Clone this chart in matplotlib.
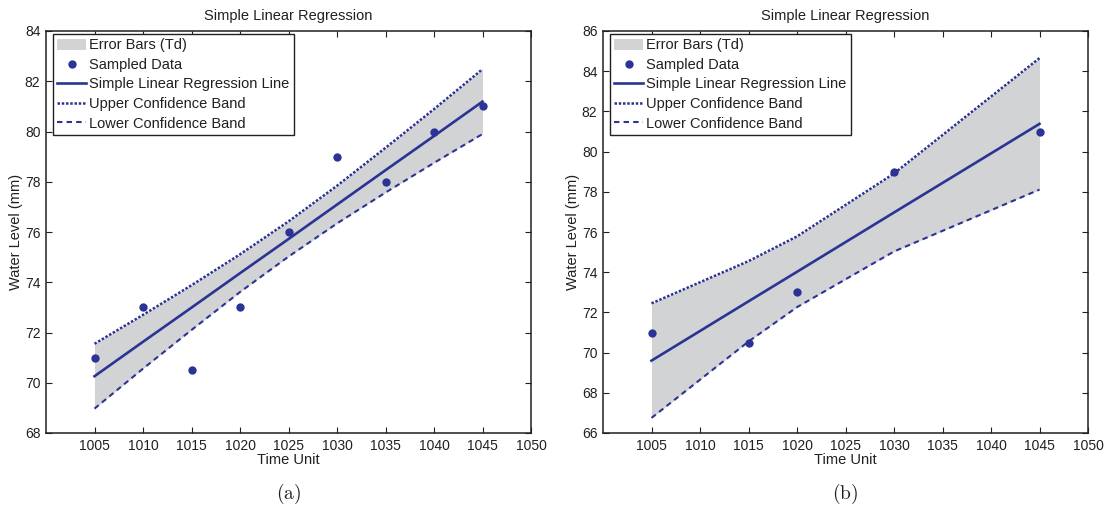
import matplotlib
matplotlib.use("Agg")
import matplotlib.pyplot as plt
from matplotlib.patches import Patch
from matplotlib.lines import Line2D

plt.rcParams['font.family'] = ['Liberation Sans', 'DejaVu Sans']
plt.rcParams['mathtext.fontset'] = 'cm'

# ---- Panel (a) data ----
time_a = [1005, 1010, 1015, 1020, 1025, 1030, 1035, 1040, 1045]
sampled_a = [71, 73, 70.5, 73, 76, 79, 78, 80, 81]
fit_a = [70.26, 71.63, 72.99, 74.36, 75.72, 77.09, 78.46, 79.82, 81.19]
upper_a = [71.55, 72.70, 73.88, 75.11, 76.42, 77.84, 79.35, 80.89, 82.48]
lower_a = [68.97, 70.56, 72.10, 73.61, 75.02, 76.34, 77.57, 78.75, 79.90]

# ---- Panel (b) data ----
time_b = [1005, 1015, 1020, 1030, 1045]
sampled_b = [71, 70.5, 73, 79, 81]
fit_b = [69.60, 72.55, 74.02, 76.97, 81.38]
upper_b = [72.45, 74.55, 75.78, 78.91, 84.65]
lower_b = [66.75, 70.55, 72.26, 75.03, 78.11]

x_ticks = [1005, 1010, 1015, 1020, 1025, 1030, 1035, 1040, 1045, 1050]
y_ticks_a = [68, 70, 72, 74, 76, 78, 80, 82, 84]
y_ticks_b = [66, 68, 70, 72, 74, 76, 78, 80, 82, 84, 86]

title = "Simple Linear Regression"
x_label = "Time Unit"
y_label = "Water Level (mm)"
legend_labels = ["Error Bars (Td)", "Sampled Data", "Simple Linear Regression Line",
                 "Upper Confidence Band", "Lower Confidence Band"]
panel_labels = ["(a)", "(b)"]

BLUE = "#2B3494"
GRAY = "#D1D3D4"
DARK = "#231F20"

W, H = 1118, 516
fig = plt.figure(figsize=(W / 100, H / 100), dpi=100)

def px_axes(x0, x1, y0, y1):
    return fig.add_axes([x0 / W, 1 - y1 / H, (x1 - x0) / W, (y1 - y0) / H])

ax_a = px_axes(46, 531, 31, 433)
ax_b = px_axes(603, 1088, 31, 433)

DOT = (0, (1.0, 0.7))
DASH = (0, (2.6, 2.0))

def draw(ax, t, s, f, up, lo, yticks, plabel):
    ax.fill_between(t, lo, up, color=GRAY, linewidth=0, zorder=1)
    ax.plot(t, up, color=BLUE, lw=1.8, linestyle=DOT, zorder=2)
    ax.plot(t, lo, color=BLUE, lw=1.5, linestyle=DASH, zorder=2)
    ax.plot(t, f, color=BLUE, lw=1.9, zorder=3)
    ax.plot(t, s, 'o', color=BLUE, markersize=6, markeredgewidth=0, zorder=4)
    ax.set_xlim(1000, 1050)
    ax.set_ylim(yticks[0], yticks[-1])
    ax.set_xticks(x_ticks)
    ax.set_yticks(yticks)
    ax.tick_params(direction='in', top=True, right=True, length=4, width=0.8,
                   labelsize=10, colors=DARK, pad=4)
    for sp in ax.spines.values():
        sp.set_color(DARK)
        sp.set_linewidth(1.1)
    ax.set_title(title, fontsize=10.5, color=DARK, pad=8)
    ax.set_xlabel(x_label, fontsize=10.5, color=DARK, labelpad=0.5)
    ax.set_ylabel(y_label, fontsize=10.5, color=DARK, labelpad=1)
    handles = [
        Patch(facecolor=GRAY, edgecolor='none'),
        Line2D([], [], marker='o', color=BLUE, linestyle='none', markersize=6, markeredgewidth=0),
        Line2D([], [], color=BLUE, lw=1.9),
        Line2D([], [], color=BLUE, lw=1.8, linestyle=DOT),
        Line2D([], [], color=BLUE, lw=1.5, linestyle=DASH),
    ]
    leg = ax.legend(handles, legend_labels, loc='upper left',
                    bbox_to_anchor=(7 / 485, 1 - 3 / 402), borderaxespad=0,
                    fontsize=10.5, frameon=True, fancybox=False, framealpha=1,
                    handlelength=1.95, handleheight=0.75, handletextpad=0.25,
                    labelspacing=0.38, borderpad=0.3)
    leg.get_frame().set_edgecolor(DARK)
    leg.get_frame().set_linewidth(1.0)
    for txt in leg.get_texts():
        txt.set_color(DARK)
    ax.text(0.5, -0.152, r'$\mathrm{' + plabel + '}$', transform=ax.transAxes,
            ha='center', va='center', fontsize=14, color=DARK)

draw(ax_a, time_a, sampled_a, fit_a, upper_a, lower_a, y_ticks_a, panel_labels[0])
draw(ax_b, time_b, sampled_b, fit_b, upper_b, lower_b, y_ticks_b, panel_labels[1])

fig.savefig("out.png", dpi=100)
